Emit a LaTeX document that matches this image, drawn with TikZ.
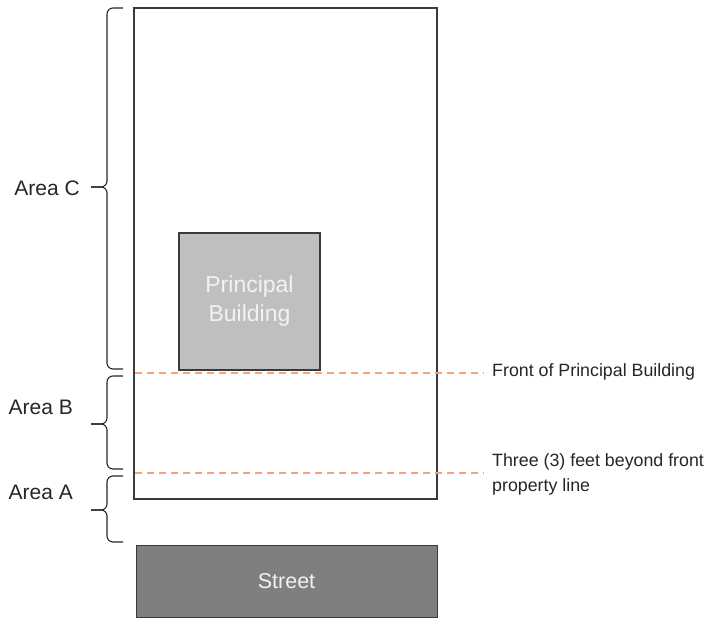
\documentclass[tikz,border=0pt]{standalone}
\usepackage{fontspec}
\setmainfont{Liberation Sans}
\usepackage{xcolor}
\usepackage{tikz}

\definecolor{linegray}{HTML}{3A3A3A}
\definecolor{textgray}{HTML}{262626}
\definecolor{bldgray}{HTML}{BFBFBF}
\definecolor{streetgray}{HTML}{7F7F7F}
\definecolor{streetedge}{HTML}{2E3B4E}
\definecolor{setback}{HTML}{F4A374}

\begin{document}
\begin{tikzpicture}[x=1pt,y=-1pt,
		arealabel/.style={text=textgray,font=\fontsize{21}{25}\selectfont,inner sep=0pt,anchor=east},
		notelabel/.style={text=textgray,font=\fontsize{17.8}{25}\selectfont,inner sep=0pt,align=left,anchor=west},
		frontline/.style={setback,line width=1.4pt,dash pattern=on 7pt off 5pt},
		bracket/.style={textgray,line width=1.1pt,rounded corners=6pt}]
	\useasboundingbox (0,0) rectangle (712,620);
	% lot, building, street
	\draw [linegray,line width=1.2pt] (134,8) rectangle (437,499);
	\node (bldg) [draw=linegray,line width=1.2pt,fill=bldgray,minimum width=141pt,minimum height=137pt,
		text=white!95!black,align=center,font=\fontsize{23}{29}\selectfont] at (249.5,301.5) {Principal\\Building};
	\node (street) [draw=streetedge,line width=1pt,fill=streetgray,minimum width=301pt,minimum height=72pt,
		text=white!95!black,font=\fontsize{21.5}{25}\selectfont] at (286.5,581) {Street};
	% setback lines
	\coordinate (f1) at (135,373);
	\coordinate (f2) at (135,473);
	\node (front) [notelabel] at (492,372) {Front of Principal Building};
	\node (beyond) [notelabel] at (492,474) {Three (3) feet beyond front\\property line};
	\draw [frontline,shorten >=8pt] (f1) -- (f1 -| front.west);
	\draw [frontline,shorten >=8pt] (f2) -- (f2 -| beyond.west);
	% braces and area labels
	\foreach \t/\m/\b in {8/187/369, 376/424/469, 476/510/542}{
		\draw [bracket] (123,\t) -- (107,\t) -- (107,\m) -- (91,\m);
		\draw [bracket] (91,\m) -- (107,\m) -- (107,\b) -- (123,\b);
	}
	\node (areaC) [arealabel] at (80,188) {Area C};
	\node (areaB) [arealabel] at (73,407) {Area B};
	\node (areaA) [arealabel] at (73,492) {Area A};
\end{tikzpicture}
\end{document}
